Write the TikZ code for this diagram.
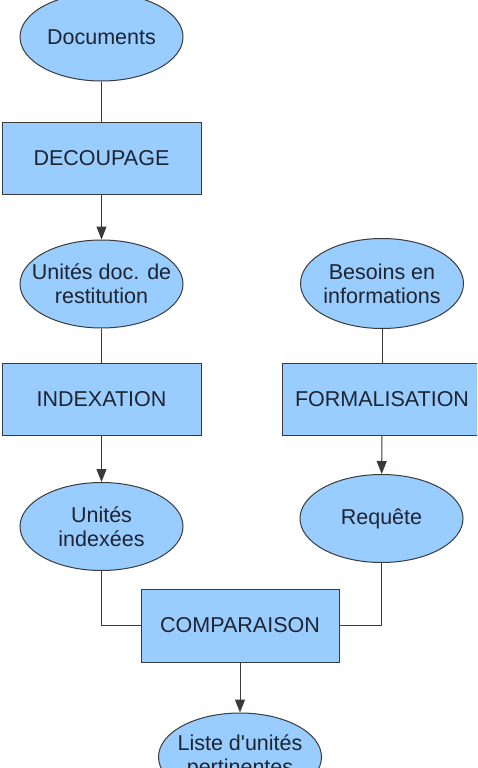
\documentclass[tikz,border=0pt]{standalone}
\usepackage{fontspec}
\setmainfont{Liberation Sans}
\usetikzlibrary{shapes.geometric,arrows.meta}
\definecolor{boxfill}{HTML}{99CCFF}
\definecolor{boxline}{HTML}{3A3A3A}
\definecolor{txt}{HTML}{1E2430}
\tikzset{
  base/.style={draw=boxline, fill=boxfill, line width=1pt, text=txt, inner sep=0pt,
    align=center, font=\fontsize{21.5}{24}\selectfont},
  oval/.style={base, ellipse, inner xsep=-40pt, minimum width=163pt, minimum height=88pt},
  stepbox/.style={base, rectangle, minimum width=199pt, minimum height=72pt},
  link/.style={draw=boxline, line width=1pt},
  arr/.style={link, -{Triangle[length=13pt,width=10pt]}}
}
\begin{document}
\begin{tikzpicture}[x=1pt,y=-1pt]
\useasboundingbox (0,0) rectangle (477,768);
\begin{scope}
\clip (0,0) rectangle (477,768);
\node[oval] (doc) at (101.5,37) {Documents};
\node[stepbox] (decoup) at (101.5,158) {DECOUPAGE};
\node[oval] (unites) at (101.5,284) {Unités doc. de\\restitution};
\node[stepbox] (index) at (101.5,399) {INDEXATION};
\node[oval] (indexees) at (101.5,526.5) {Unités\\indexées};
\node[oval, minimum height=90pt] (besoins) at (382,283.5) {Besoins en\\informations};
\node[stepbox, minimum width=200pt] (formal) at (382,399) {FORMALISATION};
\node[oval] (requete) at (381.5,518.5) {Requête};
\node[stepbox, minimum width=198pt, minimum height=73pt] (comp) at (240,625.5) {COMPARAISON};
\node[oval] (liste) at (240,757) {Liste d\textquotesingle unités\\pertinentes};

\draw[link] (doc) -- (decoup);
\draw[arr] (decoup) -- (unites);
\draw[link] (unites) -- (index);
\draw[arr] (index) -- (indexees);
\draw[link] (besoins) -- (formal);
\draw[arr] (formal) -- (requete);
\draw[link] (indexees.south) |- (comp.west);
\draw[link] (requete.south) |- (comp.east);
\draw[arr] (comp) -- (liste);
\end{scope}
\end{tikzpicture}
\end{document}
